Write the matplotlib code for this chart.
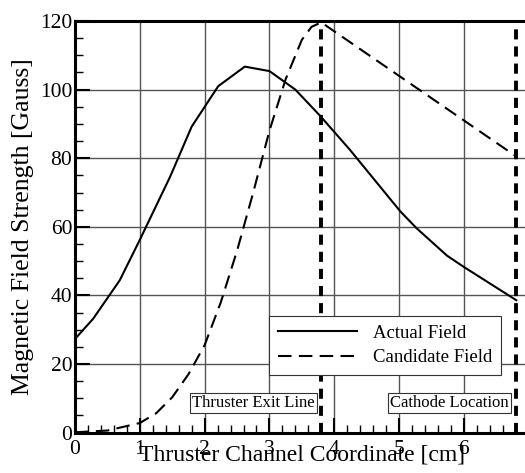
import matplotlib.pyplot as plt
from matplotlib.ticker import MultipleLocator

plt.rcParams['font.family'] = ['Liberation Serif', 'DejaVu Serif']

# actual field
actual_x = [0.0, 0.28, 0.69, 1.0, 1.47, 1.80, 2.21, 2.62, 3.0, 3.40, 3.78, 4.24, 5.02, 5.27, 5.74, 6.0, 6.81]
actual_y = [27.3, 33.2, 44.4, 56.2, 74.7, 89.2, 101.0, 106.7, 105.4, 100.0, 92.4, 82.5, 64.5, 59.6, 51.6, 48.3, 38.6]

# candidate field
cand_x = [0.0, 0.5, 1.0, 1.25, 1.5, 1.75, 2.0, 2.25, 2.5, 2.75, 3.0, 3.25, 3.5, 3.65, 3.8, 6.81]
cand_y = [0.1, 0.6, 2.8, 5.6, 10.3, 17.0, 25.5, 38.0, 53.0, 70.0, 88.0, 103.0, 114.5, 118.3, 119.6, 80.5]

exit_x = 3.8
cathode_x = 6.81

fig = plt.figure(figsize=(5.25, 4.73), dpi=100)
ax = fig.add_axes([0.1429, 0.0854, 0.864, 0.8702])

ax.grid(True, which='major', color='#555555', linewidth=1.0, zorder=0)
ax.plot(actual_x, actual_y, color='black', lw=1.5, label='Actual Field', zorder=3)
ax.plot(cand_x, cand_y, color='black', lw=1.5, dashes=(6.5, 3.5), label='Candidate Field', zorder=3)
ax.axvline(exit_x, color='black', lw=2.8, dashes=(2.6, 1.8), zorder=4)
ax.axvline(cathode_x, color='black', lw=2.8, dashes=(2.6, 1.8), zorder=4)

box = dict(boxstyle='square,pad=0.12', facecolor='white', edgecolor='#333333', linewidth=0.8)
ax.text(exit_x - 0.1, 8.6, 'Thruster Exit Line', ha='right', va='center', fontsize=12, bbox=box, zorder=5)
ax.text(cathode_x - 0.12, 8.6, 'Cathode Location', ha='right', va='center', fontsize=12, bbox=box, zorder=5)

leg = ax.legend(loc='lower right', bbox_to_anchor=(0.64, 0.139, 0.3, 0.2), fontsize=13.5,
                handlelength=4.2, fancybox=False, framealpha=1, edgecolor='#333333',
                borderpad=0.48, labelspacing=0.4, handletextpad=0.85, borderaxespad=0)
leg.get_frame().set_linewidth(0.8)
leg.set_zorder(6)

ax.set_xlim(0, 7)
ax.set_ylim(0, 120)
ax.xaxis.set_major_locator(MultipleLocator(1))
ax.xaxis.set_minor_locator(MultipleLocator(0.2))
ax.yaxis.set_major_locator(MultipleLocator(20))
ax.yaxis.set_minor_locator(MultipleLocator(5))
ax.tick_params(which='major', direction='in', length=11, width=1.5, labelsize=15.5, pad=2)
ax.tick_params(which='minor', direction='in', length=6, width=1.0)
ax.tick_params(axis='x', which='major', pad=5)
for s in ax.spines.values():
    s.set_linewidth(2.2)

ax.set_xlabel('Thruster Channel Coordinate [cm]', fontsize=17, labelpad=-10)
ax.set_ylabel('Magnetic Field Strength [Gauss]', fontsize=18.5, labelpad=4)

fig.savefig('out.png', dpi=100)
